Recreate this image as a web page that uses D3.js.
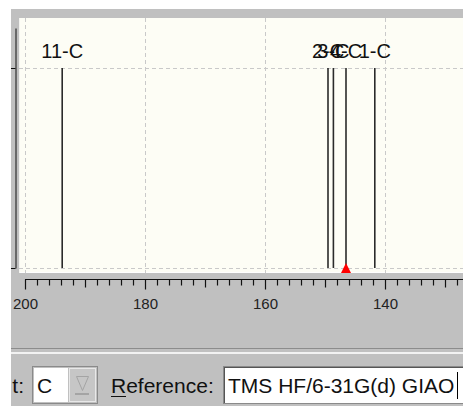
<!DOCTYPE html>
<html><head><meta charset="utf-8">
<script src="https://cdn.jsdelivr.net/npm/d3@7"></script>
<style>
html,body{margin:0;padding:0;background:#fff;overflow:hidden}
svg{display:block}
</style></head><body>
<script>
// ---- data ----
const peakLabels = ["11-C", "2-C", "3-C", "4-C", "1-C"];
const peakShifts = [193.8, 149.5, 148.6, 146.5, 141.7];
const peakIntensity = [1, 1, 1, 1, 1];
const majorTicks = [200, 180, 160, 140];
const tickLabels = ["200", "180", "160", "140"];
const selectedShift = 146.5;
const elementValue = "C";
const referenceLabel = "Reference:";
const referenceValue = "TMS HF/6-31G(d) GIAO";

const W = 463, H = 406;
const svg = d3.select("body").append("svg").attr("width", W).attr("height", H);
const font = "'Liberation Sans', Arial, Helvetica, sans-serif";

// panel
svg.append("rect").attr("x", 11).attr("y", 9).attr("width", W - 11).attr("height", H - 9).attr("fill", "#c0c0c0");

// scales
const x = d3.scaleLinear().domain([200, 100]).range([25, 625]);
const y = d3.scaleLinear().domain([0, 1]).range([268, 68]);

// plot area
const plotL = 19, plotT = 18, plotB = 273;
svg.append("defs").append("clipPath").attr("id", "pc")
  .append("rect").attr("x", plotL).attr("y", plotT).attr("width", W - plotL).attr("height", plotB - plotT);
svg.append("rect").attr("x", plotL).attr("y", plotT).attr("width", W - plotL).attr("height", plotB - plotT).attr("fill", "#fdfdf5");
svg.append("line").attr("x1", plotL).attr("x2", W).attr("y1", plotB - 0.5).attr("y2", plotB - 0.5).attr("stroke", "#ffffff");
svg.append("line").attr("x1", plotL + 0.5).attr("x2", plotL + 0.5).attr("y1", plotT).attr("y2", plotB).attr("stroke", "#f4f4f0");

const g = svg.append("g").attr("clip-path", "url(#pc)");
// grid
const gridX = d3.range(200, 100, -20);
g.selectAll("line.gx").data(gridX).join("line")
  .attr("x1", d => Math.round(x(d)) + 0.5).attr("x2", d => Math.round(x(d)) + 0.5)
  .attr("y1", plotT).attr("y2", plotB)
  .attr("stroke", "#c9c9c9").attr("stroke-dasharray", "4,3");
g.selectAll("line.gy").data([0, 1]).join("line")
  .attr("x1", plotL).attr("x2", W)
  .attr("y1", d => y(d) + 0.5).attr("y2", d => y(d) + 0.5)
  .attr("stroke", "#c9c9c9").attr("stroke-dasharray", "4,3");

// peaks
const peaks = peakShifts.map((s, i) => ({s, l: peakLabels[i], v: peakIntensity[i]}));
g.selectAll("line.pk").data(peaks).join("line")
  .attr("x1", d => x(d.s)).attr("x2", d => x(d.s))
  .attr("y1", d => y(d.v)).attr("y2", y(0))
  .attr("stroke", "#2a2a2a").attr("stroke-width", 1.6);
g.selectAll("text.pl").data(peaks).join("text")
  .attr("x", d => x(d.s)).attr("y", d => y(d.v) - 10)
  .attr("text-anchor", "middle")
  .attr("font-family", font).attr("font-size", 20).attr("fill", "#111")
  .text(d => d.l);

// selection triangle
const tx = x(selectedShift);
g.append("path").attr("d", `M${tx - 5},${plotB} L${tx + 5},${plotB} L${tx},${plotB - 10} Z`).attr("fill", "#ff0000");

// y axis (partially visible)
const yAxScale = d3.scaleLinear().domain([0, 1.2]).range([268, 28]);
const yAx = svg.append("g").attr("transform", "translate(15.5,0)")
  .call(d3.axisLeft(yAxScale).tickValues([0, 1]).tickSize(5).tickSizeOuter(0).tickFormat(""));
yAx.selectAll("path,line").attr("stroke", "#111");

// x axis
const axY = 279.5;
const xAxisG = svg.append("g").attr("transform", `translate(0,${axY})`);
const minorTicks = d3.range(200, 126, -2).filter(d => d % 10 !== 0);
const midTicks = d3.range(200, 126, -10).filter(d => d % 20 !== 0);
xAxisG.append("g").call(d3.axisBottom(x).tickValues(minorTicks).tickSize(6).tickSizeOuter(0).tickFormat(""));
xAxisG.append("g").call(d3.axisBottom(x).tickValues(midTicks).tickSize(8).tickSizeOuter(0).tickFormat(""));
const axMajor = xAxisG.append("g").call(d3.axisBottom(x).tickValues(majorTicks).tickSize(10).tickSizeOuter(0).tickPadding(9)
  .tickFormat((d, i) => tickLabels[i]));
xAxisG.selectAll("path.domain").attr("stroke", "#111").attr("d", `M${x(200)},0H${W + 5}`);
xAxisG.selectAll("line").attr("stroke", "#111").attr("stroke-width", 1.2);
axMajor.selectAll("text").attr("font-family", font).attr("font-size", 15).attr("fill", "#222");

// separator
svg.append("line").attr("x1", 11).attr("x2", W).attr("y1", 348.5).attr("y2", 348.5).attr("stroke", "#8c8c8c");
svg.append("rect").attr("x", 11).attr("y", 352).attr("width", W - 11).attr("height", 2).attr("fill", "#f2f2f2");

// bottom controls
const bf = 21;
svg.append("text").attr("x", 24).attr("y", 393).attr("text-anchor", "end")
  .attr("font-family", font).attr("font-size", bf).attr("fill", "#111").text("t:");
// white strip covering left
svg.append("rect").attr("x", 0).attr("y", 0).attr("width", 11).attr("height", H).attr("fill", "#fff");

// combo box
svg.append("rect").attr("x", 32.5).attr("y", 366.5).attr("width", 65).attr("height", 37).attr("fill", "#c0c0c0").attr("stroke", "#8a8a8a");
svg.append("rect").attr("x", 34).attr("y", 368).attr("width", 34).attr("height", 34).attr("fill", "#fff");
svg.append("text").attr("x", 37).attr("y", 393).attr("font-family", font).attr("font-size", bf).attr("fill", "#111").text(elementValue);
svg.append("rect").attr("x", 69.5).attr("y", 368.5).attr("width", 26).attr("height", 33).attr("fill", "#c6c6c6").attr("stroke", "#e8e8e8");
svg.append("path").attr("d", "M76.5,376.5 L88.5,376.5 L82.5,390.5 Z").attr("fill", "none").attr("stroke", "#a4a4a4");
svg.append("rect").attr("x", 75).attr("y", 393).attr("width", 14).attr("height", 2).attr("fill", "#a4a4a4");

// Reference label
svg.append("text").attr("x", 111).attr("y", 393).attr("font-family", font).attr("font-size", bf).attr("fill", "#111").text(referenceLabel);
svg.append("line").attr("x1", 111).attr("x2", 126).attr("y1", 396.5).attr("y2", 396.5).attr("stroke", "#111");

// text field
svg.append("rect").attr("x", 223.5).attr("y", 366.5).attr("width", 250).attr("height", 37).attr("fill", "#fff").attr("stroke", "#8a8a8a");
svg.append("line").attr("x1", 224.5).attr("x2", 224.5).attr("y1", 367).attr("y2", 403).attr("stroke", "#555");
svg.append("line").attr("x1", 224).attr("x2", W).attr("y1", 367.5).attr("y2", 367.5).attr("stroke", "#555");
svg.append("text").attr("x", 228).attr("y", 393).attr("font-family", font).attr("font-size", bf).attr("fill", "#111").text(referenceValue);
svg.append("line").attr("x1", 457.5).attr("x2", 457.5).attr("y1", 372).attr("y2", 399).attr("stroke", "#000");
</script>
</body></html>
